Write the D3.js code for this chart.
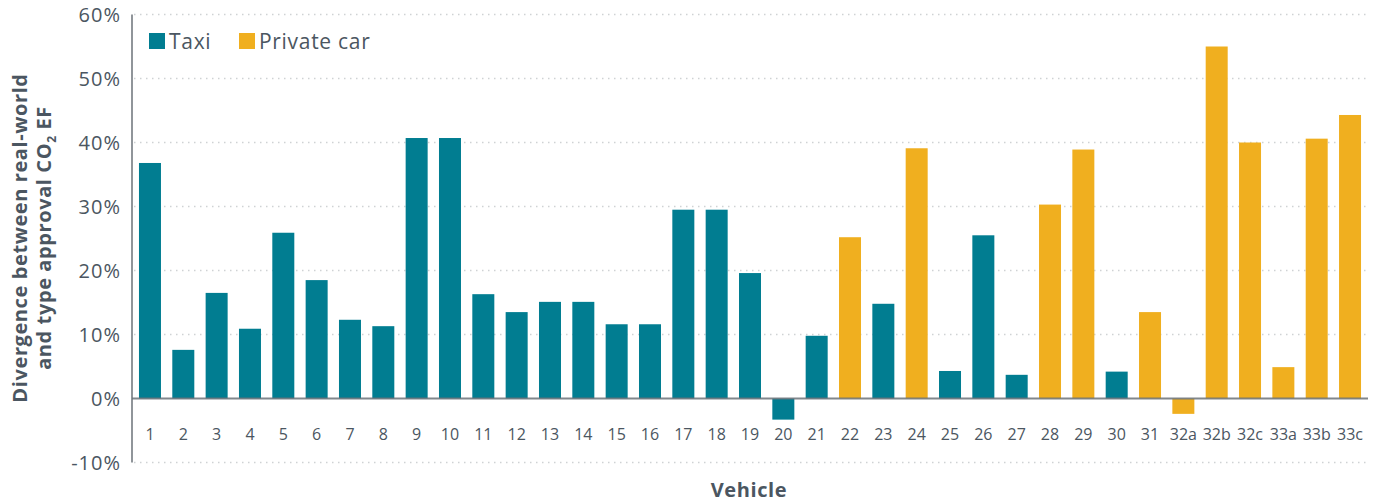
<!DOCTYPE html>
<html>
<head>
<meta charset="utf-8">
<script src="https://cdn.jsdelivr.net/npm/d3@7"></script>
<style>
  body { margin: 0; background: #fff; }
  svg text { font-family: "Open Sans", sans-serif; fill: #4b5661; }
</style>
</head>
<body>
<svg id="chart" width="1378" height="503"></svg>
<script>
var vehicles = ["1","2","3","4","5","6","7","8","9","10","11","12","13","14","15","16","17","18","19","20",
  "21","22","23","24","25","26","27","28","29","30","31","32a","32b","32c","33a","33b","33c"]
var divergence = [36.8,7.6,16.5,10.9,25.9,18.5,12.3,11.3,40.7,40.7,16.3,13.5,15.1,15.1,11.6,11.6,29.5,29.5,19.6,-3.3,
  9.8,25.2,14.8,39.1,4.3,25.5,3.7,30.3,38.9,4.2,13.5,-2.4,55.0,40.0,4.9,40.6,44.3]
var vehicleType = ["Taxi","Taxi","Taxi","Taxi","Taxi","Taxi","Taxi","Taxi","Taxi","Taxi","Taxi","Taxi","Taxi","Taxi","Taxi","Taxi","Taxi","Taxi","Taxi","Taxi",
  "Taxi","Private car","Taxi","Private car","Taxi","Taxi","Taxi","Private car","Private car","Taxi","Private car","Private car","Private car","Private car","Private car","Private car","Private car"]
var seriesNames = ["Taxi", "Private car"]
var yTicks = [-10, 0, 10, 20, 30, 40, 50, 60]

var svg = d3.select("#chart"),
  plotLeft = 132, plotRight = 1368, plotTop = 14.5, plotBottom = 462.5

var x = d3.scaleBand().domain(vehicles).range([133.3, 1366.7]).paddingInner(0.34).paddingOuter(0.17)
var y = d3.scaleLinear().domain([-10, 60]).range([plotBottom, plotTop])
var color = d3.scaleOrdinal().domain(seriesNames).range(["#017d91", "#f0af1f"])

// gridlines
svg.append("g").selectAll("line").data(yTicks.filter(d => d != 0)).join("line")
  .attr("x1", plotLeft + 2).attr("x2", plotRight)
  .attr("y1", d => y(d)).attr("y2", d => y(d))
  .attr("stroke", "#cfd2d4").attr("stroke-width", 1.5).attr("stroke-dasharray", "1.5,4.5")

// y tick labels
svg.append("g").selectAll("text").data(yTicks).join("text")
  .attr("x", plotLeft - 11).attr("y", d => y(d)).attr("dy", "0.36em")
  .attr("text-anchor", "end").style("font-size", "20px").style("letter-spacing", "1px")
  .text(d => d + "%")

// bars
svg.append("g").selectAll("rect").data(vehicles).join("rect")
  .attr("x", d => x(d))
  .attr("width", x.bandwidth())
  .attr("y", (d, i) => y(Math.max(0, divergence[i])))
  .attr("height", (d, i) => Math.abs(y(divergence[i]) - y(0)))
  .attr("fill", (d, i) => color(vehicleType[i]))

// zero line and y axis
svg.append("line").attr("x1", plotLeft).attr("x2", plotRight).attr("y1", y(0)).attr("y2", y(0))
  .attr("stroke", "#6b7278").attr("stroke-opacity", 0.85).attr("stroke-width", 2)
svg.append("line").attr("x1", plotLeft).attr("x2", plotLeft).attr("y1", plotTop).attr("y2", plotBottom)
  .attr("stroke", "#6b7278").attr("stroke-width", 1.5)

// x tick labels
svg.append("g").selectAll("text").data(vehicles).join("text")
  .attr("x", d => x(d) + x.bandwidth() / 2).attr("y", 440)
  .attr("text-anchor", "middle").style("font-size", "16px")
  .text(d => d)

// axis titles
svg.append("text").attr("x", 749).attr("y", 497).attr("text-anchor", "middle")
  .style("font-size", "20px").style("font-weight", "700").style("letter-spacing", "0.6px").text("Vehicle")

var yt = svg.append("text").attr("transform", "translate(0,238) rotate(-90)")
  .attr("text-anchor", "middle").style("font-size", "20px").style("font-weight", "700")
  .style("letter-spacing", "0.6px")
yt.append("tspan").attr("x", 0).attr("y", 27).text("Divergence between real-world")
var l2 = yt.append("tspan").attr("x", 0).attr("y", 51)
l2.append("tspan").text("and type approval CO")
l2.append("tspan").attr("dy", 5).style("font-size", "12px").text("2")
l2.append("tspan").attr("dy", -5).text(" EF")

// legend
var legend = svg.append("g").selectAll("g").data(seriesNames).join("g")
  .attr("transform", (d, i) => "translate(" + [149, 239][i] + ",33)")
legend.append("rect").attr("width", 16).attr("height", 16).attr("fill", d => color(d))
legend.append("text").attr("x", 20).attr("y", 8).attr("dy", "0.36em")
  .style("font-size", "21px").style("letter-spacing", "0.7px").text(d => d)
</script>
</body>
</html>
